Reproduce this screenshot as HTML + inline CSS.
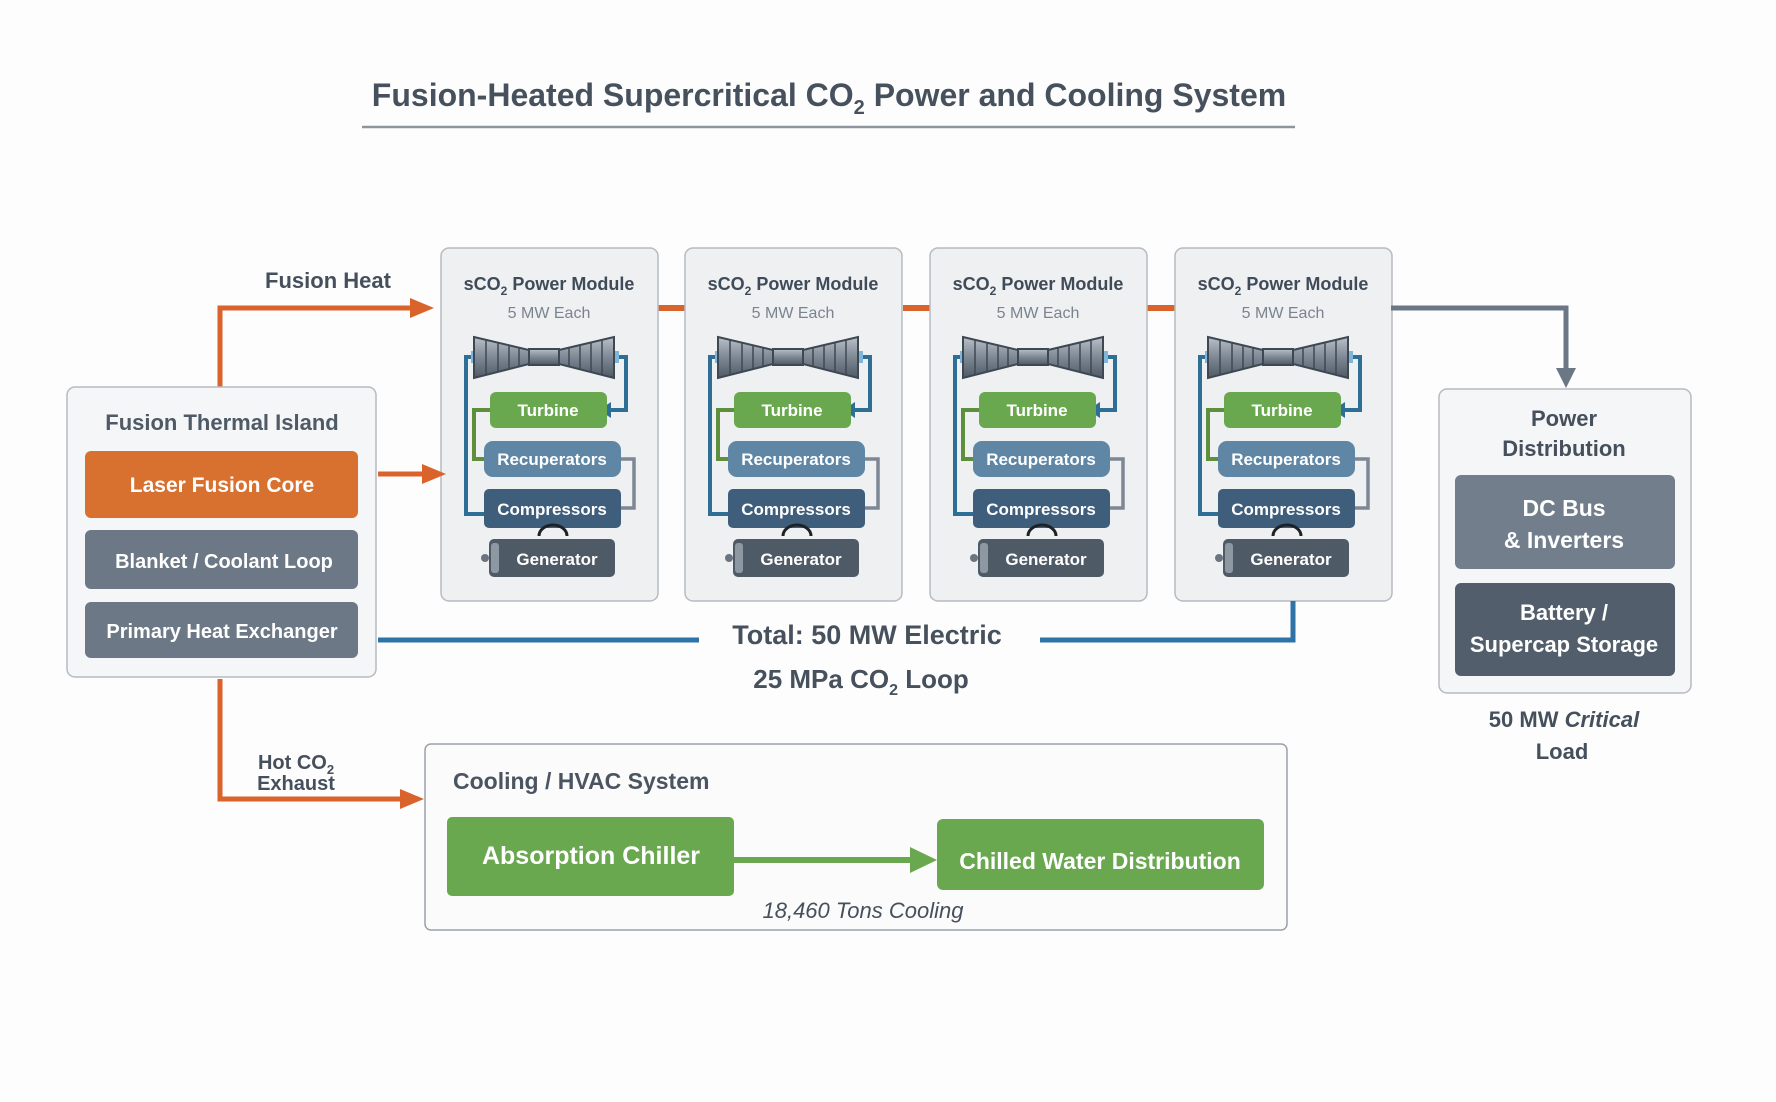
<!DOCTYPE html>
<html><head><meta charset="utf-8"><style>
html,body{margin:0;padding:0;background:#fdfdfd;}
svg{display:block;font-family:"Liberation Sans",sans-serif;}
</style></head><body>
<svg width="1776" height="1102" viewBox="0 0 1776 1102" xmlns="http://www.w3.org/2000/svg">
<defs>
<linearGradient id="tg" x1="0" y1="0" x2="0" y2="1"><stop offset="0" stop-color="#b9c0c8"/><stop offset="0.5" stop-color="#7d8894"/><stop offset="1" stop-color="#4f5a66"/></linearGradient>
<g id="mod">
  <rect x="0" y="248" width="217" height="353" rx="8" fill="#eef0f2" stroke="#b6bbc1" stroke-width="1.5"/>
  <text x="108" y="290" text-anchor="middle" font-size="18" font-weight="bold" fill="#3f4b58">sCO<tspan font-size="12" dy="5">2</tspan><tspan dy="-5"> Power Module</tspan></text>
  <text x="108" y="318" text-anchor="middle" font-size="16" fill="#7a848f">5 MW Each</text>
  <polyline points="40,357 25,357 25,514 43,514" fill="none" stroke="#2f6f96" stroke-width="4"/>
  <polygon points="43,506 55,514 43,522" fill="#2f6f96"/>
  <polyline points="170,357 185,357 185,410 170,410" fill="none" stroke="#2f6f96" stroke-width="4"/>
  <polygon points="170,402 158,410 170,418" fill="#2f6f96"/>
  <polygon points="30,351 40,351 40,363 30,363" fill="#7fb6da"/>
  <polygon points="170,351 178,351 178,363 170,363" fill="#7fb6da"/>
  <polyline points="49,410 33,410 33,459 43,459" fill="none" stroke="#5e8f3c" stroke-width="4"/>
  <polyline points="180,459 193,459 193,508 180,508" fill="none" stroke="#7d8894" stroke-width="3.5"/>
  <polygon points="33,337 88,350 88,364 33,378" fill="url(#tg)" stroke="#3e4852" stroke-width="2"/>
  <rect x="88" y="349" width="30" height="16" fill="url(#tg)" stroke="#3e4852" stroke-width="2"/>
  <polygon points="118,350 173,337 173,378 118,364" fill="url(#tg)" stroke="#3e4852" stroke-width="2"/>
  <g stroke="#3e4852" stroke-width="1.5">
   <line x1="45" y1="340" x2="45" y2="375"/><line x1="57" y1="343" x2="57" y2="372"/><line x1="68" y1="345" x2="68" y2="369"/><line x1="78" y1="348" x2="78" y2="367"/>
   <line x1="128" y1="348" x2="128" y2="367"/><line x1="139" y1="345" x2="139" y2="369"/><line x1="150" y1="343" x2="150" y2="372"/><line x1="161" y1="340" x2="161" y2="375"/>
  </g>
  <rect x="49" y="392" width="117" height="36" rx="6" fill="#6aa84f"/>
  <text x="107" y="416" text-anchor="middle" font-size="17" font-weight="bold" fill="#fff">Turbine</text>
  <rect x="43" y="441" width="137" height="36" rx="9" fill="#5f87a5"/>
  <text x="111" y="465" text-anchor="middle" font-size="17" font-weight="bold" fill="#fff">Recuperators</text>
  <rect x="43" y="489" width="137" height="39" rx="5" fill="#3f5e7b"/>
  <text x="111" y="515" text-anchor="middle" font-size="17" font-weight="bold" fill="#fff">Compressors</text>
  <path d="M98,536 A14,11 0 0 1 126,536" fill="none" stroke="#1c2228" stroke-width="3"/>
  <rect x="48" y="539" width="126" height="38" rx="5" fill="#4f5a67"/>
  <circle cx="44" cy="558" r="4" fill="#6b7580"/>
  <rect x="50" y="543" width="8" height="30" rx="3" fill="#8e98a2"/>
  <text x="116" y="565" text-anchor="middle" font-size="17" font-weight="bold" fill="#fff">Generator</text>
</g>
</defs>

<text x="829" y="106" text-anchor="middle" font-size="32" font-weight="bold" fill="#46515d">Fusion-Heated Supercritical CO<tspan font-size="20" dy="8">2</tspan><tspan dy="-8"> Power and Cooling System</tspan></text>
<line x1="362" y1="127" x2="1295" y2="127" stroke="#8d959e" stroke-width="2.5"/>

<line x1="657" y1="308" x2="685" y2="308" stroke="#d9632b" stroke-width="6"/>
<line x1="903" y1="308" x2="930" y2="308" stroke="#d9632b" stroke-width="6"/>
<line x1="1146" y1="308" x2="1175" y2="308" stroke="#d9632b" stroke-width="6"/>

<use href="#mod" x="441"/>
<use href="#mod" x="685"/>
<use href="#mod" x="930"/>
<use href="#mod" x="1175"/>

<polyline points="220,387 220,308 412,308" fill="none" stroke="#d9632b" stroke-width="5"/>
<polygon points="410,298 434,308 410,318" fill="#d9632b"/>
<text x="328" y="288" text-anchor="middle" font-size="22" font-weight="bold" fill="#45505c">Fusion Heat</text>
<line x1="378" y1="474" x2="424" y2="474" stroke="#d9632b" stroke-width="5"/>
<polygon points="422,464 446,474 422,484" fill="#d9632b"/>

<polyline points="1391,308 1566,308 1566,370" fill="none" stroke="#6b7785" stroke-width="5"/>
<polygon points="1556,368 1566,388 1576,368" fill="#6b7785"/>

<rect x="67" y="387" width="309" height="290" rx="8" fill="#f5f6f7" stroke="#b6bbc1" stroke-width="1.5"/>
<text x="222" y="430" text-anchor="middle" font-size="22" font-weight="bold" fill="#4f5a66">Fusion Thermal Island</text>
<rect x="85" y="451" width="273" height="67" rx="6" fill="#d8712f"/>
<text x="222" y="492" text-anchor="middle" font-size="21" font-weight="bold" fill="#fff">Laser Fusion Core</text>
<rect x="85" y="530" width="273" height="59" rx="6" fill="#6c7885"/>
<text x="224" y="568" text-anchor="middle" font-size="20" font-weight="bold" fill="#fff">Blanket / Coolant Loop</text>
<rect x="85" y="602" width="273" height="56" rx="6" fill="#6c7885"/>
<text x="222" y="638" text-anchor="middle" font-size="20" font-weight="bold" fill="#fff">Primary Heat Exchanger</text>

<line x1="378" y1="640" x2="699" y2="640" stroke="#2f72a6" stroke-width="5"/>
<polyline points="1040,640 1293,640 1293,601" fill="none" stroke="#2f72a6" stroke-width="5"/>
<text x="867" y="644" text-anchor="middle" font-size="27" font-weight="bold" fill="#46515d">Total: 50 MW Electric</text>
<text x="861" y="688" text-anchor="middle" font-size="26" font-weight="bold" fill="#46515d">25 MPa CO<tspan font-size="16" dy="7">2</tspan><tspan dy="-7"> Loop</tspan></text>

<rect x="1439" y="389" width="252" height="304" rx="8" fill="#f5f6f7" stroke="#b6bbc1" stroke-width="1.5"/>
<text x="1564" y="426" text-anchor="middle" font-size="22" font-weight="bold" fill="#45505c">Power</text>
<text x="1564" y="456" text-anchor="middle" font-size="22" font-weight="bold" fill="#45505c">Distribution</text>
<rect x="1455" y="475" width="220" height="94" rx="6" fill="#727e8b"/>
<text x="1564" y="516" text-anchor="middle" font-size="23" font-weight="bold" fill="#fff">DC Bus</text>
<text x="1564" y="548" text-anchor="middle" font-size="23" font-weight="bold" fill="#fff">&amp; Inverters</text>
<rect x="1455" y="583" width="220" height="93" rx="6" fill="#525e6b"/>
<text x="1564" y="620" text-anchor="middle" font-size="22" font-weight="bold" fill="#fff">Battery /</text>
<text x="1564" y="652" text-anchor="middle" font-size="22" font-weight="bold" fill="#fff">Supercap Storage</text>
<text x="1564" y="727" text-anchor="middle" font-size="22" font-weight="bold" fill="#45505c">50 MW <tspan font-style="italic">Critical</tspan></text>
<text x="1562" y="759" text-anchor="middle" font-size="22" font-weight="bold" fill="#45505c">Load</text>

<polyline points="220,679 220,799 402,799" fill="none" stroke="#d9632b" stroke-width="5"/>
<polygon points="400,789 424,799 400,809" fill="#d9632b"/>
<text x="296" y="769" text-anchor="middle" font-size="20" font-weight="bold" fill="#45505c">Hot CO<tspan font-size="13" dy="5">2</tspan></text>
<text x="296" y="790" text-anchor="middle" font-size="20" font-weight="bold" fill="#45505c">Exhaust</text>

<rect x="425" y="744" width="862" height="186" rx="6" fill="#fbfbfb" stroke="#9aa1a9" stroke-width="1.5"/>
<text x="453" y="789" font-size="23" font-weight="bold" fill="#4a5561">Cooling / HVAC System</text>
<rect x="447" y="817" width="287" height="79" rx="5" fill="#6aa84f"/>
<text x="591" y="864" text-anchor="middle" font-size="25" font-weight="bold" fill="#fff">Absorption Chiller</text>
<line x1="734" y1="860" x2="912" y2="860" stroke="#6aa84f" stroke-width="6"/>
<polygon points="910,847 937,860 910,873" fill="#6aa84f"/>
<rect x="937" y="819" width="327" height="71" rx="6" fill="#6aa84f"/>
<text x="1100" y="869" text-anchor="middle" font-size="23" font-weight="bold" fill="#fff">Chilled Water Distribution</text>
<text x="863" y="918" text-anchor="middle" font-size="22" font-style="italic" fill="#45505c">18,460 Tons Cooling</text>
</svg>
</body></html>
